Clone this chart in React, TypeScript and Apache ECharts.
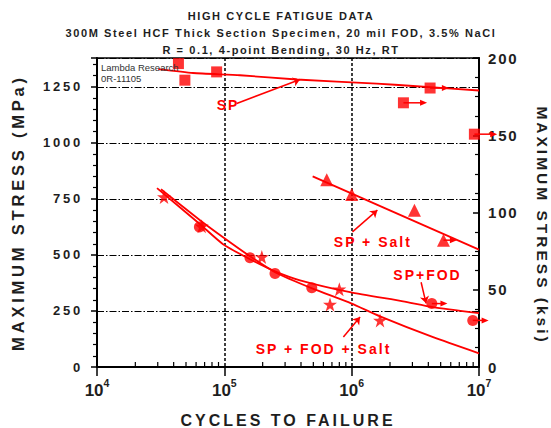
import React, { useEffect, useRef } from "react";
import * as echarts from "echarts";

const TITLE_LINES = [
  "HIGH CYCLE FATIGUE DATA",
  "300M Steel HCF Thick Section Specimen, 20 mil FOD, 3.5% NaCl",
  "R = 0.1, 4-point Bending, 30 Hz, RT",
];
const NOTE_LINES = ["Lambda Research", "0R-11105"];
const X_NAME = "CYCLES TO FAILURE";
const Y_LEFT_NAME = "MAXIMUM STRESS (MPa)";
const Y_RIGHT_NAME = "MAXIMUM STRESS (ksi)";

const X_MIN = 1e4;
const X_MAX = 1e7;
const KSI_MAX = 200;
const KSI_TICK = 50;
const MPA_PER_KSI = 6.894757;
const MPA_MAX = KSI_MAX * MPA_PER_KSI;
const MPA_TICK = 250;

// SP (squares)
const spCycles = [43600, 49000, 87000, 2550000, 4130000, 9200000];
const spStress = [1354, 1280, 1317, 1179, 1245, 1039];
const spRunoutTo = [0, 0, 0, 3910000, 5800000, 13900000];
const spCurveCycles = [30300, 56800, 132700, 370700, 1574000, 3030000, 10000000];
const spCurveStress = [1329, 1312, 1302, 1283, 1265, 1254, 1234];

// SP + Salt (triangles)
const saltCycles = [637000, 1000000, 3110000, 5260000];
const saltStress = [836, 770, 700, 566];
const saltRunoutTo = [0, 0, 0, 6700000];
const saltCurveCycles = [494000, 10000000];
const saltCurveStress = [851, 524];

// SP + FOD (circles)
const fodCycles = [63700, 159000, 250000, 486000, 4260000, 8930000];
const fodStress = [625, 488, 417, 354, 283, 208];
const fodRunoutTo = [0, 0, 0, 0, 5650000, 11900000];
const fodCurveCycles = [29600, 64450, 97700, 159200, 250200, 393200, 971400, 2534000, 4360000, 10000000];
const fodCurveStress = [798, 637, 548, 481, 427, 387, 334, 293, 267, 240];

// SP + FOD + Salt (stars)
const fsCycles = [33600, 66400, 197000, 676000, 800000, 1670000];
const fsStress = [759, 628, 491, 279, 347, 208];
const fsCurveCycles = [31800, 64450, 97700, 159200, 250200, 488700, 989200, 1671000, 4360000, 10000000];
const fsCurveStress = [793, 655, 579, 494, 423, 351, 284, 226, 133, 61];

// annotations
const annoLabels = ["SP", "SP + Salt", "SP+FOD", "SP + FOD + Salt"];
const annoLabelAt = [[107000, 1168], [1466000, 558], [3940000, 409], [601000, 79]];
const annoArrowFrom = [[125000, 1176], [1014000, 603], [3510000, 378], [861000, 134]];
const annoArrowTo = [[393000, 1283], [1592000, 700], [3840000, 284], [1164000, 223]];

const RED = "#ff0000";
const INK = "#1e1e1e";
const FONT = "Liberation Sans";
const STAR = "path://M50,0L61.8,35.3L99,35.3L68.9,57.1L80.4,92.7L50,70.9L19.6,92.7L31.1,57.1L1,35.3L38.2,35.3Z";

const CSS = `
body{margin:0}
text[style*="11px"]{letter-spacing:1.6px}
text[style*="13px"]{letter-spacing:2.8px}
text[style*="15px"]{letter-spacing:1.8px}
text[style*="16px"]{letter-spacing:3px}
text[style*="16.5px"]{letter-spacing:3.8px}
text[style*="15.5px"]{letter-spacing:3px}
text[style*="14px"]{letter-spacing:2px}
`;

const pairs = (a: number[], b: number[]) => a.map((v, i) => [v, b[i]]);

const minorTicks: number[] = [];
for (let d = 4; d < 7; d++) for (let k = 2; k <= 9; k++) minorTicks.push(k * Math.pow(10, d));

function arrowMark(data: any[]) {
  return {
    silent: true,
    symbol: ["none", "arrow"],
    symbolSize: 7,
    label: { show: false },
    lineStyle: { color: RED, width: 1.5, type: "solid" },
    emphasis: { disabled: true },
    data,
  };
}

function annotation(i: number) {
  return {
    markLine: arrowMark([[{ coord: annoArrowFrom[i] }, { coord: annoArrowTo[i] }]]),
    markPoint: {
      silent: true,
      symbol: "rect",
      symbolSize: 1,
      itemStyle: { color: "rgba(0,0,0,0)" },
      label: {
        show: true,
        position: "inside",
        formatter: "{b}",
        color: RED,
        fontSize: 14,
        fontWeight: "bold",
        fontFamily: FONT,
      },
      data: [{ name: annoLabels[i], coord: annoLabelAt[i] }],
    },
  };
}

function curve(c: number[], s: number[], i: number) {
  return {
    type: "line",
    data: pairs(c, s),
    showSymbol: false,
    smooth: 0.2,
    silent: true,
    lineStyle: { color: RED, width: 1.8 },
    z: 3,
    ...annotation(i),
  };
}

function points(c: number[], s: number[], symbol: string, size: number) {
  return {
    type: "scatter",
    data: pairs(c, s),
    symbol,
    symbolSize: size,
    itemStyle: { color: RED },
    clip: false,
    silent: true,
    z: 4,
  };
}

// run-out arrows: from the specimen point to the right, drawn through the axes
function runouts(c: number[], s: number[], to: number[]) {
  return {
    type: "custom",
    coordinateSystem: "cartesian2d",
    clip: false,
    silent: true,
    z: 4,
    encode: { x: 0, y: 1 },
    data: c.map((v, i) => [v, s[i], to[i]]).filter((d) => d[2] > 0),
    renderItem: (_p: any, api: any) => {
      const a = api.coord([api.value(0), api.value(1)]);
      const b = api.coord([api.value(2), api.value(1)]);
      return {
        type: "group",
        children: [
          { type: "line", shape: { x1: a[0], y1: a[1], x2: b[0] - 5, y2: b[1] }, style: { stroke: RED, lineWidth: 1.5 } },
          {
            type: "polygon",
            shape: { points: [[b[0], b[1]], [b[0] - 7, b[1] - 3], [b[0] - 7, b[1] + 3]] },
            style: { fill: RED },
          },
        ],
      };
    },
  };
}

const option: any = {
  animation: false,
  textStyle: { fontFamily: FONT },
  grid: {
    left: 97,
    right: 72,
    top: 58,
    bottom: 61,
    show: true,
    borderColor: "#000",
    borderWidth: 1.5,
    containLabel: false,
    outerBoundsMode: "none",
  },
  graphic: [
    ...TITLE_LINES.map((t, i) => ({
      type: "text",
      x: 281,
      y: [16, 33, 50][i],
      style: {
        text: t,
        fontSize: 11,
        fontWeight: "bold",
        fontFamily: FONT,
        fill: INK,
        align: "center",
        verticalAlign: "middle",
        textAlign: "center",
        textVerticalAlign: "middle",
      },
    })),
    {
      type: "text",
      x: 101,
      y: 62,
      z: 10,
      style: {
        text: NOTE_LINES.join("\n"),
        fontSize: 9.5,
        lineHeight: 11,
        fontFamily: FONT,
        fill: "#333",
        align: "left",
        verticalAlign: "top",
      },
    },
  ],
  xAxis: {
    type: "log",
    logBase: 10,
    min: X_MIN,
    max: X_MAX,
    name: X_NAME,
    nameLocation: "middle",
    nameGap: 45,
    nameTextStyle: { fontSize: 16, fontWeight: "bold", color: INK, fontFamily: FONT },
    axisLine: { show: true, lineStyle: { color: "#000", width: 2 } },
    axisTick: { show: true, length: 9, lineStyle: { color: "#000", width: 1.5 } },
    axisLabel: {
      margin: 10,
      formatter: (v: number) => `{b|10}{s|${Math.round(Math.log10(v))}}`,
      rich: {
        b: { fontSize: 17, fontWeight: "bold", color: INK, fontFamily: FONT, lineHeight: 22, verticalAlign: "bottom" },
        s: { fontSize: 10.5, fontWeight: "bold", color: INK, fontFamily: FONT, lineHeight: 22, verticalAlign: "top" },
      },
    },
    splitLine: { show: true, lineStyle: { color: "#000", width: 1.5, type: [3, 2] } },
  },
  yAxis: [
    {
      type: "value",
      position: "left",
      min: 0,
      max: MPA_MAX,
      interval: MPA_TICK,
      name: Y_LEFT_NAME,
      nameLocation: "middle",
      nameRotate: 90,
      nameGap: 71,
      nameTextStyle: { fontSize: 16.5, fontWeight: "bold", color: INK, fontFamily: FONT },
      axisLine: { show: true, lineStyle: { color: "#000", width: 2 } },
      axisTick: { show: true, length: 6, lineStyle: { color: "#000", width: 1.5 } },
      minorTick: { show: true, splitNumber: 5, length: 4, lineStyle: { color: "#000", width: 1.2 } },
      axisLabel: {
        margin: 14,
        fontSize: 13,
        fontWeight: "bold",
        color: INK,
        fontFamily: FONT,
        showMaxLabel: false,
        formatter: (v: number) => String(Math.round(v)),
      },
      splitLine: { show: true, lineStyle: { color: "#000", width: 1.2, type: [7, 2, 1.5, 2] } },
    },
    {
      type: "value",
      position: "right",
      min: 0,
      max: KSI_MAX,
      interval: KSI_TICK,
      name: Y_RIGHT_NAME,
      nameLocation: "middle",
      nameRotate: -90,
      nameGap: 55,
      nameTextStyle: {
        fontSize: 15.5,
        fontWeight: "bold",
        color: INK,
        fontFamily: FONT,
        padding: [0, 0, 0, 26],
      },
      axisLine: { show: true, lineStyle: { color: "#000", width: 2 } },
      axisTick: { show: true, inside: true, length: 6, lineStyle: { color: "#000", width: 1.5 } },
      minorTick: { show: true, splitNumber: 4, length: 4, lineStyle: { color: "#000", width: 1.2 } },
      axisLabel: { margin: 9, fontSize: 15, fontWeight: "bold", color: INK, fontFamily: FONT },
      splitLine: { show: false },
    },
  ],
  series: [
    {
      type: "custom",
      coordinateSystem: "cartesian2d",
      xAxisIndex: 0,
      yAxisIndex: 0,
      silent: true,
      clip: false,
      z: 5,
      encode: { x: 0, y: 1 },
      data: minorTicks.map((v) => [v, 0]),
      renderItem: (_p: any, api: any) => {
        const p = api.coord([api.value(0), 0]);
        return {
          type: "line",
          shape: { x1: p[0], y1: p[1], x2: p[0], y2: p[1] - 5 },
          style: { stroke: "#000", lineWidth: 1.2 },
        };
      },
    },
    curve(spCurveCycles, spCurveStress, 0),
    curve(saltCurveCycles, saltCurveStress, 1),
    curve(fodCurveCycles, fodCurveStress, 2),
    curve(fsCurveCycles, fsCurveStress, 3),
    points(spCycles, spStress, "rect", 11),
    points(saltCycles, saltStress, "triangle", 13),
    points(fodCycles, fodStress, "circle", 11),
    points(fsCycles, fsStress, STAR, 14),
    runouts(spCycles, spStress, spRunoutTo),
    runouts(saltCycles, saltStress, saltRunoutTo),
    runouts(fodCycles, fodStress, fodRunoutTo),
  ],
};

export default function App() {
  const ref = useRef<HTMLDivElement>(null);
  useEffect(() => {
    const chart = echarts.init(ref.current!, null, { renderer: "svg" });
    chart.setOption(option);
    return () => chart.dispose();
  }, []);
  return (
    <>
      <style>{CSS}</style>
      <div ref={ref} style={{ width: 551, height: 428 }} />
    </>
  );
}
